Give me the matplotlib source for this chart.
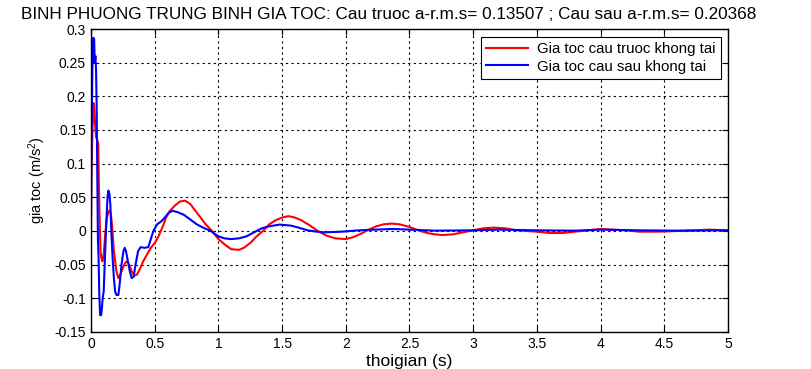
import matplotlib
matplotlib.use('Agg')
import matplotlib.pyplot as plt
import numpy as np

plt.rcParams['font.family'] = ['Liberation Sans', 'DejaVu Sans']
plt.rcParams['mathtext.default'] = 'regular'

# front axle acceleration (red)
t_truoc = [0.0, 0.004, 0.012, 0.02, 0.026, 0.032, 0.04, 0.05, 0.057, 0.062,
           0.068, 0.075, 0.082, 0.09, 0.1, 0.11, 0.125, 0.14, 0.155, 0.165,
           0.18, 0.2, 0.215, 0.23, 0.25, 0.27, 0.285, 0.3, 0.32, 0.34,
           0.36, 0.38, 0.41, 0.44, 0.47, 0.5, 0.53, 0.56, 0.59, 0.62,
           0.66, 0.7, 0.74, 0.78, 0.82, 0.86, 0.9, 0.95, 1.0, 1.05,
           1.1, 1.16, 1.2, 1.255, 1.3, 1.35, 1.4, 1.45, 1.5, 1.55,
           1.6, 1.65, 1.72, 1.78, 1.85, 1.92, 2.0, 2.06, 2.12, 2.18,
           2.24, 2.3, 2.36, 2.42, 2.5, 2.57, 2.64, 2.7, 2.76, 2.84,
           2.92, 3.0, 3.08, 3.16, 3.25, 3.34, 3.42, 3.5, 3.6, 3.7,
           3.8, 3.9, 4.0, 4.1, 4.2, 4.3, 4.45, 4.6, 4.75, 4.85, 5.0]
a_truoc = [0.0, 0.08, 0.15, 0.19, 0.185, 0.16, 0.14, 0.135, 0.13, 0.07,
           0.02, -0.03, -0.04, -0.045, -0.035, -0.01, 0.02, 0.03, 0.027, 0.01,
           -0.03, -0.06, -0.07, -0.065, -0.055, -0.047, -0.045, -0.05, -0.06, -0.066,
           -0.065, -0.058, -0.045, -0.035, -0.025, -0.018, -0.008, 0.005, 0.02, 0.03,
           0.038, 0.044, 0.045, 0.04, 0.03, 0.02, 0.01, 0.0, -0.012, -0.02,
           -0.027, -0.028, -0.025, -0.017, -0.008, 0.0, 0.01, 0.016, 0.02, 0.022,
           0.02, 0.016, 0.008, 0.0, -0.007, -0.011, -0.012, -0.009, -0.004, 0.002,
           0.007, 0.01, 0.011, 0.01, 0.006, 0.001, -0.003, -0.005, -0.006, -0.005,
           -0.002, 0.001, 0.004, 0.005, 0.004, 0.001, 0.0, -0.001, -0.003, -0.003,
           -0.001, 0.001, 0.003, 0.002, 0.001, -0.001, -0.001, 0.0, 0.001, 0.002, 0.001]

# rear axle acceleration (blue)
t_sau = [0.0, 0.005, 0.012, 0.018, 0.025, 0.03, 0.035, 0.04, 0.045, 0.05,
         0.055, 0.06, 0.065, 0.072, 0.08, 0.086, 0.092, 0.1, 0.11, 0.12,
         0.13, 0.137, 0.145, 0.152, 0.16, 0.17, 0.18, 0.19, 0.2, 0.215,
         0.225, 0.24, 0.255, 0.265, 0.275, 0.29, 0.305, 0.32, 0.335, 0.35,
         0.37, 0.39, 0.42, 0.45, 0.47, 0.49, 0.52, 0.55, 0.58, 0.61,
         0.64, 0.68, 0.73, 0.78, 0.83, 0.88, 0.94, 1.0, 1.05, 1.1,
         1.16, 1.22, 1.28, 1.34, 1.4, 1.48, 1.57, 1.63, 1.7, 1.77,
         1.83, 1.9, 1.97, 2.1, 2.23, 2.37, 2.5, 2.7, 3.0, 3.2,
         3.5, 3.8, 4.0, 4.3, 4.6, 5.0]
a_sau = [0.0, 0.15, 0.25, 0.287, 0.285, 0.25, 0.26, 0.24, 0.185, 0.08,
         -0.015, -0.04, -0.09, -0.125, -0.125, -0.115, -0.1, -0.09, -0.04, 0.01,
         0.05, 0.06, 0.055, 0.04, 0.0, -0.04, -0.07, -0.09, -0.095, -0.095,
         -0.08, -0.05, -0.03, -0.025, -0.03, -0.045, -0.06, -0.07, -0.068, -0.05,
         -0.03, -0.024, -0.025, -0.024, -0.012, 0.0, 0.01, 0.014, 0.02, 0.027,
         0.03, 0.028, 0.024, 0.017, 0.01, 0.005, 0.0, -0.008, -0.011, -0.012,
         -0.011, -0.008, -0.002, 0.004, 0.007, 0.0095, 0.008, 0.005, 0.001, -0.001,
         -0.002, -0.0015, -0.001, 0.001, 0.002, 0.003, 0.002, 0.0005, 0.001, 0.002,
         0.001, 0.0005, 0.002, 0.001, 0.0005, 0.001]

x_ticks = [0, 0.5, 1, 1.5, 2, 2.5, 3, 3.5, 4, 4.5, 5]
y_ticks = [-0.15, -0.1, -0.05, 0, 0.05, 0.1, 0.15, 0.2, 0.25, 0.3]

fig = plt.figure(figsize=(8.12, 3.69), dpi=100)
ax = fig.add_axes([0.112, 0.1003, 0.7846, 0.8211])

ax.plot(t_truoc, a_truoc, color='red', lw=1.5, label='Gia toc cau truoc khong tai')
ax.plot(t_sau, a_sau, color='blue', lw=1.5, label='Gia toc cau sau khong tai')

ax.set_xlim(0, 5)
ax.set_ylim(-0.15, 0.3)
ax.set_xticks(x_ticks)
ax.set_xticklabels([f'{v:g}' for v in x_ticks])
ax.set_yticks(y_ticks)
ax.set_yticklabels([f'{v:g}' for v in y_ticks])
ax.tick_params(direction='in', top=True, right=True, labelsize=10, length=4)
ax.grid(True, color='black', linestyle=(0, (2, 3)), linewidth=0.8)
for s in ax.spines.values():
    s.set_linewidth(1.0)

ax.set_xlabel('thoigian (s)', fontsize=12.5, labelpad=2)
ax.set_ylabel('gia toc (m/s$^2$)', fontsize=10.5, labelpad=5)
# title sits a bit left of the axes centre in the original
fig.text(389 / 812, 1 - 19 / 369,
         'BINH PHUONG TRUNG BINH GIA TOC: Cau truoc a-r.m.s= 0.13507 ; '
         'Cau sau a-r.m.s= 0.20368', fontsize=12.3, ha='center', va='baseline')

leg = ax.legend(loc='upper right', fontsize=10.8, fancybox=False, framealpha=1,
                edgecolor='black', borderaxespad=0.5, handlelength=2.8,
                borderpad=0.35, labelspacing=0.25, handletextpad=0.6)
leg.get_frame().set_linewidth(0.8)

fig.savefig('out.png', dpi=100)
